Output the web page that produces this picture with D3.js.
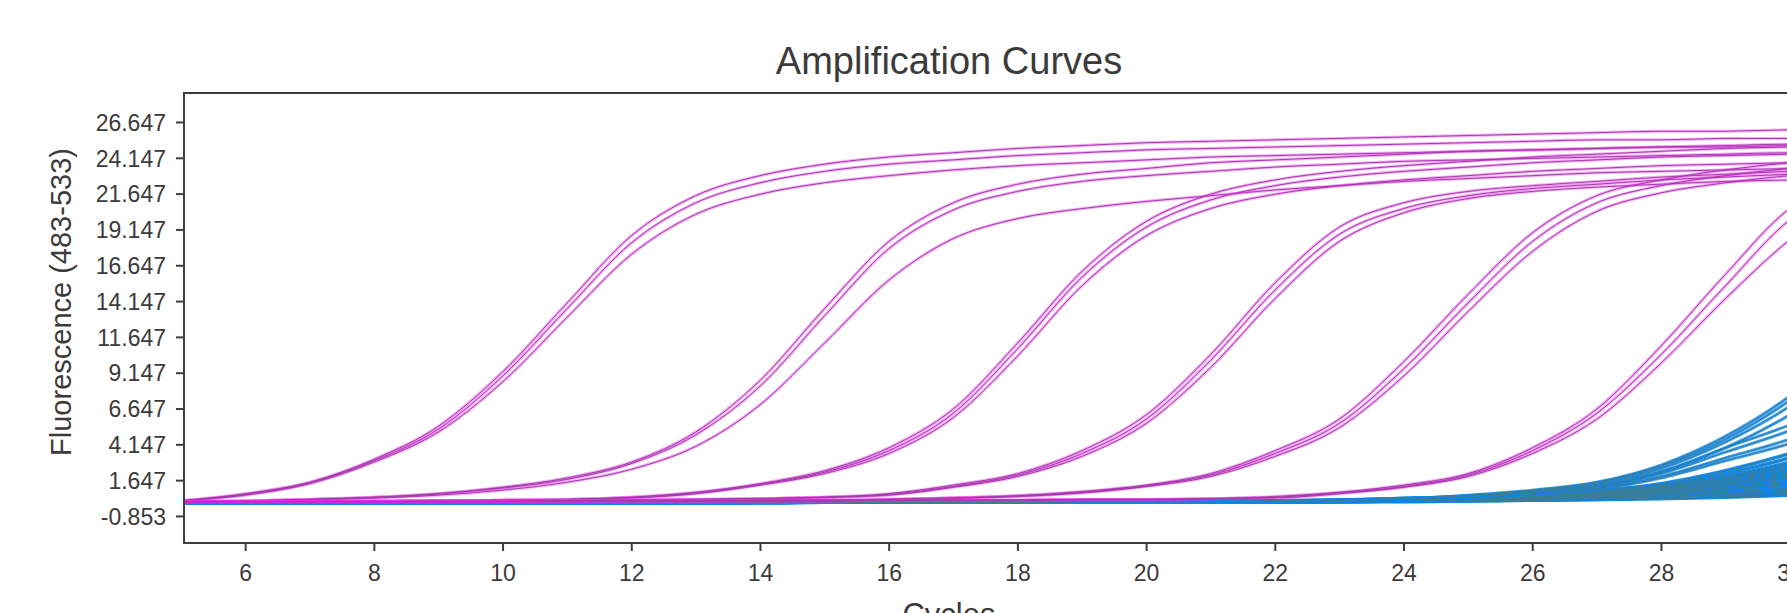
<!DOCTYPE html>
<html>
<head>
<meta charset="utf-8">
<script src="https://cdn.jsdelivr.net/npm/d3@7/dist/d3.min.js"></script>
<style>
  html, body { margin: 0; padding: 0; background: #fff; overflow: hidden; }
  svg { display: block; font-family: "Liberation Sans", Arial, Helvetica, sans-serif; }
</style>
</head>
<body>
<div id="chart"></div>
<script>
// cycles at which every well was read
var cycles = [5,6,7,8,9,10,11,12,13,14,15,16,17,18,19,20,21,22,23,24,25,26,27,28,29,30,31];

var x_ticks = [6,8,10,12,14,16,18,20,22,24,26,28,30];
var y_ticks = [-0.853,1.647,4.147,6.647,9.147,11.647,14.147,16.647,19.147,21.647,24.147,26.647];

// standards (magenta), triplicates per dilution
var std_1 = [
  [0.2,0.7,1.5,3.1,5.4,9.2,14.0,18.7,21.5,22.9,23.7,24.2,24.5,24.8,25.0,25.2,25.3,25.4,25.5,25.6,25.7,25.8,25.9,26.0,26.0,26.1,26.1],
  [0.2,0.65,1.45,3.0,5.2,8.9,13.6,18.2,21.0,22.4,23.2,23.7,24.0,24.3,24.5,24.7,24.8,24.9,25.0,25.1,25.2,25.3,25.4,25.4,25.5,25.5,25.6],
  [0.2,0.6,1.4,2.9,5.0,8.5,13.0,17.4,20.2,21.6,22.4,22.9,23.3,23.6,23.8,24.0,24.2,24.3,24.4,24.5,24.6,24.7,24.8,24.9,24.9,25.0,25.0]
];
var std_2 = [
  [0.15,0.2,0.3,0.45,0.7,1.15,1.8,2.9,5.0,8.6,13.6,18.3,21.0,22.3,23.0,23.4,23.8,24.0,24.2,24.4,24.6,24.7,24.8,24.9,25.0,25.1,25.1],
  [0.15,0.2,0.3,0.45,0.7,1.1,1.7,2.8,4.8,8.2,13.1,17.8,20.5,21.8,22.5,22.9,23.2,23.5,23.7,23.9,24.0,24.1,24.2,24.3,24.4,24.5,24.5],
  [0.15,0.2,0.3,0.4,0.6,0.95,1.5,2.4,4.0,6.9,11.2,15.6,18.5,19.9,20.6,21.1,21.5,21.9,22.2,22.5,22.7,22.9,23.1,23.2,23.3,23.4,23.5]
];
var std_3 = [
  [0.15,0.15,0.15,0.2,0.2,0.25,0.3,0.45,0.8,1.4,2.3,3.9,6.6,11.2,16.2,19.7,21.6,22.6,23.2,23.6,23.9,24.2,24.4,24.6,24.8,24.9,25.0],
  [0.15,0.15,0.15,0.2,0.2,0.25,0.3,0.45,0.75,1.35,2.2,3.7,6.3,10.8,15.8,19.3,21.2,22.2,22.8,23.2,23.5,23.8,24.0,24.2,24.3,24.4,24.5],
  [0.15,0.15,0.15,0.2,0.2,0.25,0.3,0.4,0.7,1.3,2.1,3.5,6.0,10.3,15.2,18.7,20.6,21.6,22.2,22.6,22.9,23.2,23.4,23.6,23.7,23.8,23.9]
];
var std_4 = [
  [0.15,0.15,0.15,0.15,0.2,0.2,0.2,0.25,0.3,0.35,0.45,0.7,1.3,2.1,3.7,6.2,10.4,15.4,19.3,21.0,21.8,22.2,22.5,22.8,23.0,23.2,23.3],
  [0.15,0.15,0.15,0.15,0.2,0.2,0.2,0.25,0.3,0.35,0.45,0.65,1.2,2.0,3.5,5.9,10.0,14.9,18.8,20.6,21.5,22.0,22.3,22.6,22.8,23.0,23.1],
  [0.15,0.15,0.15,0.15,0.2,0.2,0.2,0.25,0.3,0.35,0.45,0.6,1.15,1.9,3.3,5.6,9.5,14.3,18.3,20.3,21.3,21.8,22.1,22.3,22.5,22.6,22.7]
];
var std_5 = [
  [0.15,0.15,0.15,0.15,0.2,0.2,0.2,0.2,0.2,0.25,0.25,0.3,0.4,0.55,0.85,1.3,2.1,3.7,5.9,9.9,14.6,18.9,21.5,22.6,23.3,23.8,24.1],
  [0.15,0.15,0.15,0.15,0.2,0.2,0.2,0.2,0.2,0.25,0.25,0.3,0.4,0.55,0.8,1.25,2.0,3.5,5.6,9.4,14.0,18.3,21.0,22.2,22.9,23.4,23.7],
  [0.15,0.15,0.15,0.15,0.2,0.2,0.2,0.2,0.2,0.25,0.25,0.3,0.4,0.5,0.75,1.2,1.9,3.3,5.3,8.9,13.4,17.6,20.4,21.7,22.4,22.9,23.2]
];
var std_6 = [
  [0.15,0.15,0.15,0.15,0.15,0.15,0.2,0.2,0.2,0.2,0.2,0.25,0.25,0.25,0.3,0.3,0.35,0.5,0.8,1.3,2.1,3.9,6.6,11.0,16.0,20.6,22.6],
  [0.15,0.15,0.15,0.15,0.15,0.15,0.2,0.2,0.2,0.2,0.2,0.25,0.25,0.25,0.3,0.3,0.35,0.45,0.75,1.2,2.0,3.7,6.3,10.4,15.2,19.8,22.0],
  [0.15,0.15,0.15,0.15,0.15,0.15,0.2,0.2,0.2,0.2,0.2,0.25,0.25,0.25,0.3,0.3,0.35,0.4,0.7,1.15,1.9,3.5,5.9,9.8,14.3,18.4,21.2]
];

// samples (blue), late risers
var samples_a = [
  [0.05,0.05,0.05,0.05,0.05,0.05,0.05,0.05,0.1,0.1,0.1,0.1,0.1,0.1,0.15,0.15,0.15,0.2,0.25,0.35,0.6,0.95,1.5,2.7,4.7,7.5,11.3],
  [0.05,0.05,0.05,0.05,0.05,0.05,0.05,0.05,0.1,0.1,0.1,0.1,0.1,0.1,0.15,0.15,0.15,0.2,0.25,0.35,0.55,0.9,1.45,2.6,4.5,7.2,10.7],
  [0.05,0.05,0.05,0.05,0.05,0.05,0.05,0.05,0.1,0.1,0.1,0.1,0.1,0.1,0.15,0.15,0.15,0.2,0.25,0.3,0.55,0.85,1.35,2.45,4.3,6.8,10.1],
  [0.05,0.05,0.05,0.05,0.05,0.05,0.05,0.05,0.1,0.1,0.1,0.1,0.1,0.1,0.15,0.15,0.15,0.2,0.25,0.3,0.5,0.8,1.25,2.25,3.9,6.2,9.2]
];
var samples_b = [
  [0.05,0.05,0.05,0.05,0.05,0.05,0.05,0.05,0.1,0.1,0.1,0.1,0.1,0.1,0.1,0.15,0.15,0.2,0.25,0.4,0.5,0.8,1.2,2.2,3.9,5.5,7.5],
  [0.05,0.05,0.05,0.05,0.05,0.05,0.05,0.05,0.1,0.1,0.1,0.1,0.1,0.1,0.1,0.15,0.15,0.2,0.25,0.4,0.5,0.75,1.15,2.1,3.6,5.1,7.0],
  [0.05,0.05,0.05,0.05,0.05,0.05,0.05,0.05,0.1,0.1,0.1,0.1,0.1,0.1,0.1,0.15,0.15,0.2,0.2,0.35,0.45,0.7,1.05,1.9,3.2,4.5,6.2],
  [0.05,0.05,0.05,0.05,0.05,0.05,0.05,0.05,0.1,0.1,0.1,0.1,0.1,0.1,0.1,0.15,0.15,0.2,0.2,0.35,0.45,0.65,1.0,1.8,3.0,4.2,5.8]
];
var samples_low = [
  [0.05,0.05,0.05,0.05,0.05,0.05,0.05,0.1,0.1,0.1,0.1,0.1,0.1,0.1,0.15,0.15,0.15,0.2,0.25,0.35,0.45,0.6,0.9,1.4,2.3,3.5,5.0],
  [0.05,0.05,0.05,0.05,0.05,0.05,0.05,0.1,0.1,0.1,0.1,0.1,0.1,0.1,0.15,0.15,0.15,0.2,0.25,0.35,0.45,0.6,0.85,1.3,2.1,3.2,4.6],
  [0.05,0.05,0.05,0.05,0.05,0.05,0.05,0.1,0.1,0.1,0.1,0.1,0.1,0.1,0.1,0.15,0.15,0.2,0.2,0.3,0.4,0.55,0.8,1.2,1.9,2.9,4.2],
  [0.05,0.05,0.05,0.05,0.05,0.05,0.05,0.1,0.1,0.1,0.1,0.1,0.1,0.1,0.1,0.15,0.15,0.2,0.2,0.3,0.4,0.5,0.75,1.1,1.7,2.6,3.8],
  [0.05,0.05,0.05,0.05,0.05,0.05,0.05,0.05,0.1,0.1,0.1,0.1,0.1,0.1,0.1,0.15,0.15,0.15,0.2,0.3,0.35,0.5,0.7,1.0,1.6,2.4,3.5],
  [0.05,0.05,0.05,0.05,0.05,0.05,0.05,0.05,0.1,0.1,0.1,0.1,0.1,0.1,0.1,0.15,0.15,0.15,0.2,0.3,0.35,0.45,0.65,0.95,1.4,2.1,3.1],
  [0.05,0.05,0.05,0.05,0.05,0.05,0.05,0.05,0.1,0.1,0.1,0.1,0.1,0.1,0.1,0.1,0.15,0.15,0.2,0.25,0.3,0.45,0.6,0.85,1.25,1.8,2.6],
  [0.05,0.05,0.05,0.05,0.05,0.05,0.05,0.05,0.1,0.1,0.1,0.1,0.1,0.1,0.1,0.1,0.15,0.15,0.2,0.25,0.3,0.4,0.55,0.8,1.1,1.6,2.3],
  [0.05,0.05,0.05,0.05,0.05,0.05,0.05,0.05,0.05,0.1,0.1,0.1,0.1,0.1,0.1,0.1,0.15,0.15,0.2,0.25,0.3,0.35,0.5,0.7,0.95,1.3,1.8],
  [0.05,0.05,0.05,0.05,0.05,0.05,0.05,0.05,0.05,0.1,0.1,0.1,0.1,0.1,0.1,0.1,0.1,0.15,0.15,0.2,0.25,0.3,0.45,0.6,0.8,1.1,1.5],
  [0.05,0.05,0.05,0.05,0.05,0.05,0.05,0.05,0.05,0.1,0.1,0.1,0.1,0.1,0.1,0.1,0.1,0.15,0.15,0.2,0.25,0.3,0.35,0.45,0.6,0.8,1.1],
  [0.05,0.05,0.05,0.05,0.05,0.05,0.05,0.05,0.05,0.05,0.1,0.1,0.1,0.1,0.1,0.1,0.1,0.1,0.15,0.2,0.2,0.25,0.3,0.35,0.45,0.6,0.8],
  [0.05,0.05,0.05,0.05,0.05,0.05,0.05,0.05,0.1,0.1,0.1,0.1,0.1,0.1,0.1,0.15,0.15,0.2,0.2,0.3,0.4,0.55,0.75,1.15,1.8,2.75,4.0],
  [0.05,0.05,0.05,0.05,0.05,0.05,0.05,0.05,0.1,0.1,0.1,0.1,0.1,0.1,0.1,0.15,0.15,0.15,0.2,0.3,0.35,0.5,0.7,1.05,1.5,2.25,3.3],
  [0.05,0.05,0.05,0.05,0.05,0.05,0.05,0.05,0.1,0.1,0.1,0.1,0.1,0.1,0.1,0.1,0.15,0.15,0.2,0.25,0.3,0.45,0.6,0.9,1.3,1.95,2.8],
  [0.05,0.05,0.05,0.05,0.05,0.05,0.05,0.05,0.05,0.1,0.1,0.1,0.1,0.1,0.1,0.1,0.15,0.15,0.2,0.25,0.3,0.4,0.5,0.75,1.05,1.45,2.0],
  [0.05,0.05,0.05,0.05,0.05,0.05,0.05,0.05,0.05,0.1,0.1,0.1,0.1,0.1,0.1,0.1,0.1,0.15,0.15,0.2,0.25,0.3,0.4,0.55,0.7,0.95,1.3],
  [0.05,0.05,0.05,0.05,0.05,0.05,0.05,0.05,0.05,0.05,0.1,0.1,0.1,0.1,0.1,0.1,0.1,0.1,0.15,0.15,0.2,0.25,0.3,0.4,0.5,0.65,0.9]
];

var text_color = '#3b3b3b';
var axis_color = '#3a3e44';
var magenta_glow = '#e62ee6';
var magenta_core = '#a03ca8';
var blue_glow = '#0a86f2';
var blue_core = '#3a7e98';

var width = 1787, height = 613;
var plot = { left: 184, top: 93, bottom: 543, right: 1854 };

var svg = d3.select('#chart').append('svg')
    .attr('width', width)
    .attr('height', height);

var x = d3.scaleLinear().domain([5.05, 31]).range([plot.left, plot.right]);
var y = d3.scaleLinear().domain([-2.74, 28.67]).range([plot.bottom, plot.top]);

svg.append('defs').append('clipPath').attr('id', 'plotclip')
  .append('rect')
    .attr('x', plot.left).attr('y', plot.top)
    .attr('width', plot.right - plot.left).attr('height', plot.bottom - plot.top);

var line = d3.line()
    .x(function(d, i) { return x(cycles[i]); })
    .y(function(d) { return y(d); })
    .curve(d3.curveMonotoneX);

var curves = svg.append('g').attr('clip-path', 'url(#plotclip)');

function drawSet(rows, glow, core, glowOpacity, glowWidth) {
  var g = curves.append('g');
  g.selectAll('path.glow').data(rows).enter().append('path')
      .attr('class', 'glow')
      .attr('d', line)
      .attr('fill', 'none')
      .attr('stroke', glow)
      .attr('stroke-opacity', glowOpacity)
      .attr('stroke-width', glowWidth);
  g.selectAll('path.core').data(rows).enter().append('path')
      .attr('class', 'core')
      .attr('d', line)
      .attr('fill', 'none')
      .attr('stroke', core)
      .attr('stroke-width', 1);
}

drawSet(samples_low, blue_glow, blue_core, 0.95, 3.6);
drawSet(samples_b, blue_glow, blue_core, 0.8, 3);
drawSet(samples_a, blue_glow, blue_core, 0.8, 3);
[std_1, std_2, std_3, std_4, std_5, std_6].forEach(function(rows) {
  drawSet(rows, magenta_glow, magenta_core, 0.4, 3);
});

// frame
svg.append('rect')
    .attr('x', plot.left).attr('y', plot.top)
    .attr('width', plot.right - plot.left).attr('height', plot.bottom - plot.top)
    .attr('fill', 'none')
    .attr('stroke', axis_color)
    .attr('stroke-width', 2);

var xAxis = svg.append('g')
    .attr('transform', 'translate(0,' + plot.bottom + ')')
    .call(d3.axisBottom(x).tickValues(x_ticks).tickSize(8).tickPadding(13)
      .tickFormat(function(d) { return String(d); }));
var yAxis = svg.append('g')
    .attr('transform', 'translate(' + plot.left + ',0)')
    .call(d3.axisLeft(y).tickValues(y_ticks).tickSize(8).tickPadding(10)
      .tickFormat(function(d) { return d.toFixed(3); }));

[xAxis, yAxis].forEach(function(a) {
  a.select('.domain').remove();
  a.selectAll('.tick line').attr('stroke', axis_color).attr('stroke-width', 2);
  a.selectAll('.tick text').attr('fill', text_color).style('font-size', '23px');
});
yAxis.selectAll('.tick text').attr('dy', '0.36em');
xAxis.selectAll('.tick text').attr('dy', '0.75em');

svg.append('text')
    .attr('x', 949).attr('y', 74)
    .attr('text-anchor', 'middle')
    .attr('fill', text_color)
    .style('font-size', '38px')
    .text('Amplification Curves');

svg.append('text')
    .attr('transform', 'translate(71,302) rotate(-90)')
    .attr('text-anchor', 'middle')
    .attr('fill', text_color)
    .style('font-size', '29px')
    .text('Fluorescence (483-533)');

svg.append('text')
    .attr('x', 949).attr('y', 625)
    .attr('text-anchor', 'middle')
    .attr('fill', text_color)
    .style('font-size', '31px')
    .text('Cycles');
</script>
</body>
</html>
